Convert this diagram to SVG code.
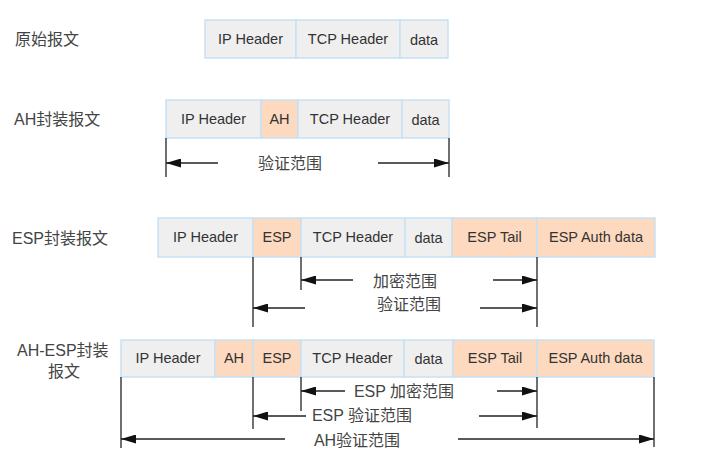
<svg xmlns="http://www.w3.org/2000/svg" width="707" height="470" viewBox="0 0 707 470">
<style>
.g{fill:#efefef;stroke:#c6e1f5;stroke-width:1.5}
.p{fill:#fcd9bf;stroke:#c6e1f5;stroke-width:1.5}
.t{font-family:"Liberation Sans","Noto Sans CJK SC",sans-serif;font-size:14.5px;fill:#333;text-anchor:middle;dominant-baseline:central}
.l{font-family:"Liberation Sans","Noto Sans CJK SC",sans-serif;font-size:16px;fill:#444;dominant-baseline:central}
.s{font-family:"Liberation Sans","Noto Sans CJK SC",sans-serif;font-size:16px;fill:#444;text-anchor:middle;dominant-baseline:central}
.v{stroke:#222;stroke-width:1.3;fill:none}
.a{stroke:#222;stroke-width:1.3;fill:none;marker-end:url(#ah)}
</style>
<defs>
<marker id="ah" markerUnits="userSpaceOnUse" markerWidth="15" markerHeight="9" refX="15" refY="4.5" orient="auto">
<path d="M0,0 L15,4.5 L0,9 z" fill="#111"/>
</marker>
</defs>
<rect width="707" height="470" fill="#fff"/>

<g id="labels">
<text class="l" x="15" y="39">原始报文</text>
<text class="l" x="14" y="119">AH封装报文</text>
<text class="l" x="12" y="238">ESP封装报文</text>
<text class="l" x="17" y="350">AH-ESP封装</text>
<text class="l" x="48" y="371">报文</text>
</g>

<g id="row1">
<rect class="g" x="205" y="20" width="91" height="38"/><text class="t" x="250.5" y="39">IP Header</text>
<rect class="g" x="296" y="20" width="104" height="38"/><text class="t" x="348" y="39">TCP Header</text>
<rect class="g" x="400" y="20" width="48" height="38"/><text class="t" x="424" y="40">data</text>
</g>

<g id="row2">
<rect class="g" x="166" y="100" width="95" height="38"/><text class="t" x="213.5" y="119">IP Header</text>
<rect class="p" x="261" y="100" width="37" height="38"/><text class="t" x="279.5" y="119">AH</text>
<rect class="g" x="298" y="100" width="104" height="38"/><text class="t" x="350" y="119">TCP Header</text>
<rect class="g" x="402" y="100" width="47" height="38"/><text class="t" x="425.5" y="120">data</text>
</g>

<g id="row3">
<rect class="g" x="158" y="218" width="95" height="39"/><text class="t" x="205.5" y="237">IP Header</text>
<rect class="p" x="253" y="218" width="48" height="39"/><text class="t" x="277" y="237">ESP</text>
<rect class="g" x="301" y="218" width="104" height="39"/><text class="t" x="353" y="237">TCP Header</text>
<rect class="g" x="405" y="218" width="47" height="39"/><text class="t" x="428.5" y="238">data</text>
<rect class="p" x="452" y="218" width="85" height="39"/><text class="t" x="494.5" y="237">ESP Tail</text>
<rect class="p" x="537" y="218" width="118" height="39"/><text class="t" x="596" y="237">ESP Auth data</text>
</g>

<g id="row4">
<rect class="g" x="121" y="340" width="94" height="37"/><text class="t" x="168" y="358">IP Header</text>
<rect class="p" x="215" y="340" width="38" height="37"/><text class="t" x="234" y="358">AH</text>
<rect class="p" x="253" y="340" width="48" height="37"/><text class="t" x="277" y="358">ESP</text>
<rect class="g" x="301" y="340" width="103" height="37"/><text class="t" x="352.5" y="358">TCP Header</text>
<rect class="g" x="404" y="340" width="49" height="37"/><text class="t" x="428.5" y="359">data</text>
<rect class="p" x="453" y="340" width="84" height="37"/><text class="t" x="495" y="358">ESP Tail</text>
<rect class="p" x="537" y="340" width="117" height="37"/><text class="t" x="595.5" y="358">ESP Auth data</text>
</g>

<g id="connectors">
<line class="v" x1="166" y1="138" x2="166" y2="177"/>
<line class="v" x1="449" y1="138" x2="449" y2="177"/>
<line class="a" x1="218" y1="163" x2="166" y2="163"/>
<line class="a" x1="378" y1="163" x2="449" y2="163"/>

<line class="v" x1="253" y1="257" x2="253" y2="327"/>
<line class="v" x1="301" y1="257" x2="301" y2="290"/>
<line class="v" x1="537" y1="257" x2="537" y2="327"/>
<line class="a" x1="353" y1="280" x2="301" y2="280"/>
<line class="a" x1="493" y1="280" x2="537" y2="280"/>
<line class="a" x1="305" y1="308" x2="253" y2="308"/>
<line class="a" x1="480" y1="308" x2="537" y2="308"/>

<line class="v" x1="121" y1="377" x2="121" y2="448"/>
<line class="v" x1="253" y1="377" x2="253" y2="429"/>
<line class="v" x1="301" y1="377" x2="301" y2="411"/>
<line class="v" x1="537" y1="377" x2="537" y2="428"/>
<line class="v" x1="654" y1="377" x2="654" y2="447"/>
<line class="a" x1="345" y1="391" x2="301" y2="391"/>
<line class="a" x1="497" y1="391" x2="537" y2="391"/>
<line class="a" x1="306" y1="416" x2="253" y2="416"/>
<line class="a" x1="479" y1="416" x2="537" y2="416"/>
<line class="a" x1="285" y1="439" x2="121" y2="439"/>
<line class="a" x1="458" y1="439" x2="654" y2="439"/>
</g>

<g id="scope-labels">
<text class="s" x="290" y="163">验证范围</text>
<text class="s" x="405" y="281">加密范围</text>
<text class="s" x="409" y="304">验证范围</text>
<text class="s" x="404" y="391">ESP 加密范围</text>
<text class="s" x="362" y="415">ESP 验证范围</text>
<text class="s" x="357" y="440">AH验证范围</text>
</g>
</svg>
